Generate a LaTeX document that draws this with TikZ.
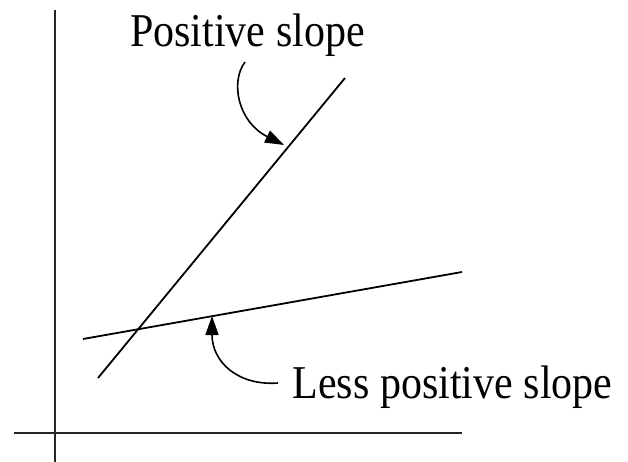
\documentclass[tikz,border=0pt]{standalone}
\usepackage{fontspec}
\setmainfont{Liberation Serif}
\usetikzlibrary{arrows.meta}
\begin{document}
\begin{tikzpicture}[x=1pt,y=-1pt,
  axis/.style={line width=1.9pt,black!85},
  curve/.style={line width=1.8pt},
  pointer/.style={line width=1.6pt,-{Triangle[length=19pt,width=13pt]}},
  label/.style={font=\fontsize{42}{48}\selectfont,inner sep=0pt,anchor=base}]
\useasboundingbox (0,0) rectangle (628,462);
% axes
\coordinate (ytop) at (55,10);
\coordinate (ybot) at (55,462);
\coordinate (xl) at (14,433);
\coordinate (xr) at (462,433);
\draw[axis] (ytop) -- (ybot);
\draw[axis] (xl) -- (xr);
% lines
\coordinate (s1) at (98,378);
\coordinate (s2) at (345,78);
\coordinate (l1) at (83,339);
\coordinate (l2) at (462,272);
\draw[curve] (s1) -- (s2);
\draw[curve] (l1) -- (l2);
% labels
\node[label] (pos) at (247.5,47) {\scalebox{1}[1.12]{Positive slope}};
\node[label] (less) at (452.5,398) {\scalebox{1}[1.12]{Less positive slope}};
% pointers
\coordinate (a1) at (245,62);
\coordinate (t1) at (284,145);
\coordinate (a2) at (278,383);
\coordinate (t2) at (212,316);
\draw[pointer] (a1) .. controls (230,82) and (238,122) .. (t1);
\draw[pointer] (a2) .. controls (238,386) and (212,362) .. (t2);
\end{tikzpicture}
\end{document}
